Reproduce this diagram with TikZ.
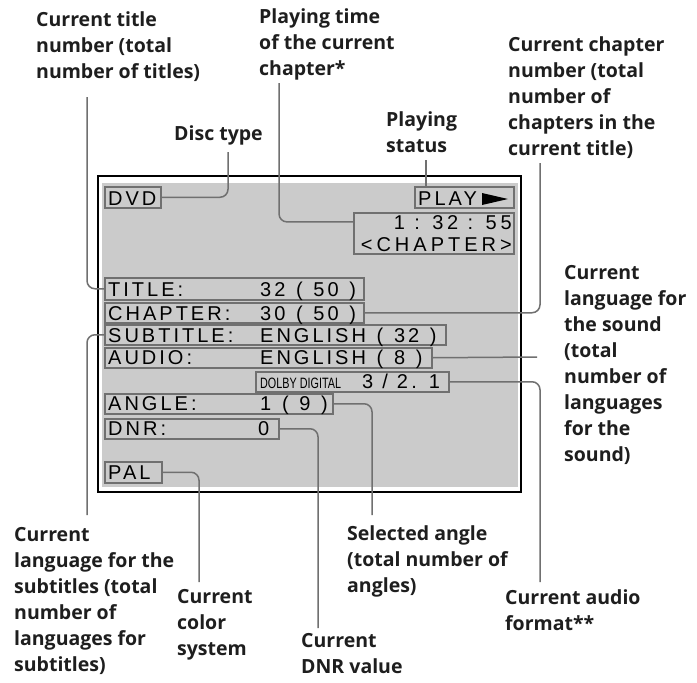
\documentclass[tikz,border=0pt]{standalone}
\usepackage{fontspec}
\setmainfont{Liberation Sans}
\newfontfamily\labelfont{Open Sans}
\newfontfamily\dispfont[LetterSpace=15,WordSpace=1.25]{Liberation Sans}
\newfontfamily\timefont[LetterSpace=19]{Liberation Sans}
\newfontfamily\fmtfont[LetterSpace=17]{Liberation Sans}
\newfontfamily\chapfont[LetterSpace=20]{Liberation Sans}
\newfontfamily\dolbyfont[FakeStretch=0.72]{Liberation Sans}
\definecolor{scr}{HTML}{CBCBCB}
\definecolor{edge}{HTML}{707070}
\definecolor{labcol}{HTML}{1E1E1E}
\begin{document}
\begin{tikzpicture}[x=1pt,y=-1pt,
  lab/.style={anchor=north west, inner sep=0, align=left, text=labcol, font=\labelfont\bfseries\fontsize{19.5}{26}\selectfont},
  dbox/.style={draw=edge, line width=1.5pt, fill=scr, anchor=north west, inner sep=0},
  dtxt/.style={inner sep=0, font=\dispfont\fontsize{20}{24}\selectfont},
  conn/.style={draw=edge, line width=1.5pt, rounded corners=8pt}]
\useasboundingbox (0,0) rectangle (697,683);
\fill[white] (0,0) rectangle (697,683);
\draw[line width=1.2pt] (98,176) rectangle (521,492);
\fill[scr] (102,183) rectangle (518,487);
% display boxes
\node[dbox, minimum width=56pt, minimum height=21pt] (dvd) at (104,186) {};
\node[dbox, minimum width=99pt, minimum height=21pt] (play) at (414,186) {};
\node[dbox, minimum width=160pt, minimum height=41pt] (time) at (353,212) {};
\node[dbox, minimum width=259pt, minimum height=22pt] (title) at (104,277) {};
\node[dbox, minimum width=259pt, minimum height=20pt] (chap) at (104,302) {};
\node[dbox, minimum width=341pt, minimum height=20pt] (sub) at (104,324) {};
\node[dbox, minimum width=327pt, minimum height=20pt] (aud) at (104,347) {};
\node[dbox, minimum width=193pt, minimum height=20pt] (dolby) at (255,371) {};
\node[dbox, minimum width=228pt, minimum height=20pt] (angle) at (104,393) {};
\node[dbox, minimum width=174pt, minimum height=20pt] (dnr) at (104,418) {};
\node[dbox, minimum width=57pt, minimum height=21pt] (pal) at (104,461) {};
% display texts
\node[dtxt, anchor=base west] (tdvd) at (108,205) {DVD};
\node[dtxt, anchor=base west] (tplay) at (418,205) {PLAY};
\fill (482,193) -- (508,199) -- (482,205) -- cycle;
\node[dtxt, anchor=base east, font=\timefont\fontsize{20}{24}\selectfont] (ttime) at (512,229.5) {1 : 32 : 55};
\node[dtxt, anchor=base east, font=\chapfont\fontsize{20}{24}\selectfont] (tchap) at (512,251.5) {<CHAPTER>};
\node[dtxt, anchor=base west] (l1) at (108,296.5) {TITLE:};
\node[dtxt, anchor=base west] (v1) at (260,296.5) {32 ( 50 )};
\node[dtxt, anchor=base west] (l2) at (108,320) {CHAPTER:};
\node[dtxt, anchor=base west] (v2) at (260,320) {30 ( 50 )};
\node[dtxt, anchor=base west] (l3) at (108,342) {SUBTITLE:};
\node[dtxt, anchor=base west] (v3) at (260,342) {ENGLISH ( 32 )};
\node[dtxt, anchor=base west] (l4) at (108,364.5) {AUDIO:};
\node[dtxt, anchor=base west] (v4) at (260,364.5) {ENGLISH ( 8 )};
\node[inner sep=0, anchor=base west, font=\dolbyfont\fontsize{15}{18}\selectfont] (l5) at (260,388) {DOLBY DIGITAL};
\node[dtxt, anchor=base west, font=\fmtfont\fontsize{20}{24}\selectfont] (v5) at (362,388) {3 / 2. 1};
\node[dtxt, anchor=base west] (l6) at (108,410.5) {ANGLE:};
\node[dtxt, anchor=base west] (v6) at (260,410.5) {1 ( 9 )};
\node[dtxt, anchor=base west] (l7) at (108,435) {DNR:};
\node[dtxt, anchor=base west] (v7) at (258,435) {0};
\node[dtxt, anchor=base west] (l8) at (108,479.5) {PAL};
% labels
\node[lab] (Ltitle) at (36,10) {\rule{0pt}{16pt}Current title\\number (total\\number of titles)};
\node[lab] (Ltime) at (259,7) {\rule{0pt}{16pt}Playing time\\of the current\\chapter*};
\node[lab] (Lchap) at (508,35) {\rule{0pt}{16pt}Current chapter\\number (total\\number of\\chapters in the\\current title)};
\node[lab] (Ldisc) at (174,124) {\rule{0pt}{16pt}Disc type};
\node[lab] (Lstat) at (386,110) {\rule{0pt}{16pt}Playing\\status};
\node[lab] (Lsound) at (564,263) {\rule{0pt}{16pt}Current\\language for\\the sound\\(total\\number of\\languages\\for the\\sound)};
\node[lab] (Lsub) at (14,525) {\rule{0pt}{16pt}Current\\language for the\\subtitles (total\\number of\\languages for\\subtitles)};
\node[lab] (Lcol) at (177,587) {\rule{0pt}{16pt}Current\\color\\system};
\node[lab] (Ldnr) at (301,631) {\rule{0pt}{16pt}Current\\DNR value};
\node[lab] (Lang) at (347,524) {\rule{0pt}{16pt}Selected angle\\(total number of\\angles)};
\node[lab] (Laud) at (505,588) {\rule{0pt}{16pt}Current audio\\format**};
% connector ends
\coordinate (ctitle) at (87,97);
\coordinate (cdisc) at (228,152);
\coordinate (ctime) at (279,83);
\coordinate (cstat) at (426,160);
\coordinate (cchap) at (540,163);
\coordinate (csound) at (537,357);
\coordinate (caud) at (540,582);
\coordinate (cang) at (372,515);
\coordinate (cdnr) at (318,628);
\coordinate (ccol) at (199,582);
\coordinate (csub) at (87,515);
% connectors
\draw[conn] (ctitle) |- (title.west);
\draw[conn] (cdisc) |- (dvd.east);
\draw[conn] (ctime) |- (time.172.5);
\draw[conn] (cstat) -- (cstat |- play.north);
\draw[conn] (cchap) |- (chap.east);
\draw[conn] (aud.east) -- (csound);
\draw[conn] (dolby.east) -| (caud);
\draw[conn] (angle.east) -| (cang);
\draw[conn] (dnr.east) -| (cdnr);
\draw[conn] (pal.east) -| (ccol);
\draw[conn] (sub.west) -| (csub);
\end{tikzpicture}
\end{document}
